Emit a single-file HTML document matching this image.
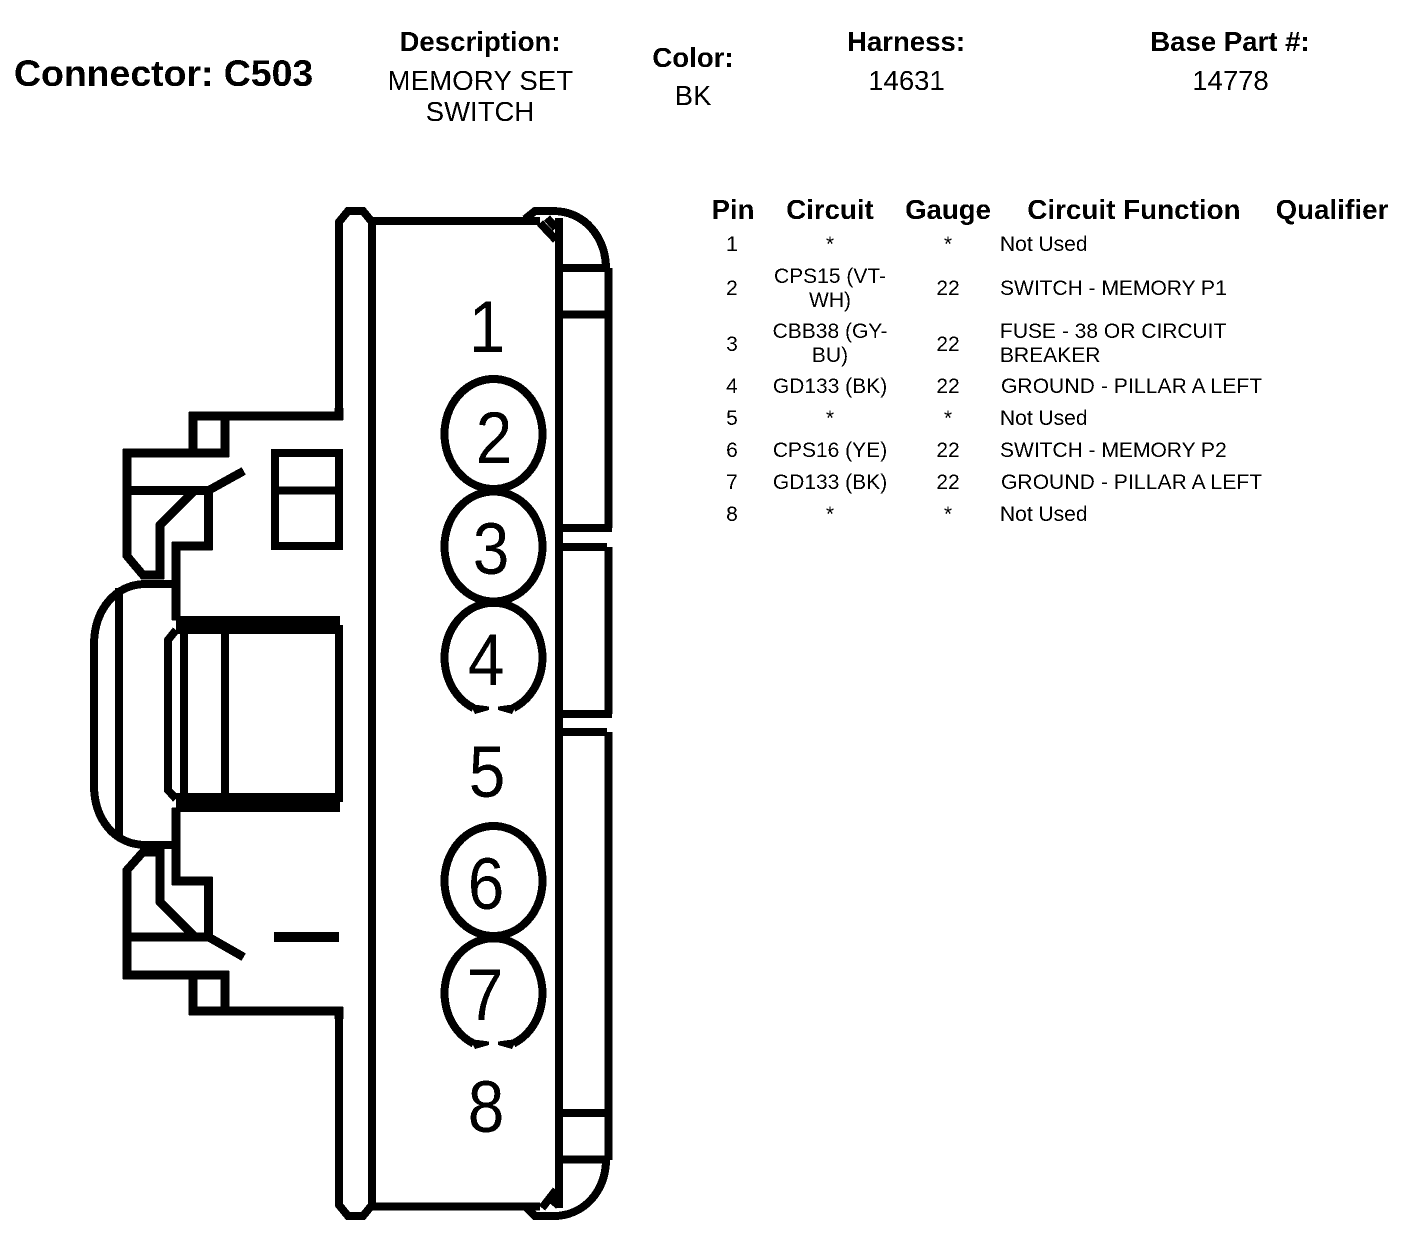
<!DOCTYPE html>
<html><head><meta charset="utf-8"><style>
html,body{margin:0;padding:0;background:#fff}
svg{display:block}
text{font-family:"Liberation Sans",Arial,sans-serif;fill:#000}
.b{font-weight:bold;font-size:27.6px;text-anchor:middle}
.r{font-size:27.5px;text-anchor:middle}
.c{font-size:21px;text-anchor:middle}
.l{font-size:21px}
.d{font-size:73px;text-anchor:middle}
.s{fill:none;stroke:#000;stroke-width:8.5;stroke-linejoin:miter;stroke-linecap:square}
.t{fill:none;stroke:#000;stroke-width:8}
</style></head><body>
<svg width="1408" height="1246" viewBox="0 0 1408 1246" xmlns="http://www.w3.org/2000/svg">
<defs><filter id="a" filterUnits="userSpaceOnUse" x="0" y="0" width="1408" height="1246" color-interpolation-filters="sRGB"><feComponentTransfer><feFuncA type="discrete" tableValues="0 1"/></feComponentTransfer></filter></defs>
<rect width="1408" height="1246" fill="#fff"/>
<g filter="url(#a)">
<text x="14" y="86" style="font-weight:bold;font-size:37.4px">Connector: C503</text>
<text class="b" x="480" y="51">Description:</text>
<text class="r" x="480.5" y="90" style="letter-spacing:.2px">MEMORY SET</text>
<text class="r" x="480" y="121">SWITCH</text>
<text class="b" x="693" y="67">Color:</text>
<text class="r" x="693" y="105">BK</text>
<text class="b" x="906" y="51">Harness:</text>
<text class="r" x="906.5" y="90">14631</text>
<text class="b" x="1230" y="51">Base Part #:</text>
<text class="r" x="1230.5" y="90">14778</text>

<text class="b" x="733" y="219">Pin</text>
<text class="b" x="830" y="219">Circuit</text>
<text class="b" x="948" y="219">Gauge</text>
<text class="b" x="1134" y="219" style="letter-spacing:.1px">Circuit Function</text>
<text class="b" x="1332" y="219" style="letter-spacing:.1px">Qualifier</text>

<text class="c" x="732" y="251">1</text><text class="c" x="830" y="251">*</text><text class="c" x="948" y="251">*</text><text class="l" x="1000" y="251">Not Used</text>
<text class="c" x="732" y="295">2</text><text class="c" x="830" y="283">CPS15 (VT-</text><text class="c" x="830" y="307">WH)</text><text class="c" x="948" y="295">22</text><text class="l" x="1000" y="295">SWITCH - MEMORY P1</text>
<text class="c" x="732" y="351">3</text><text class="c" x="830" y="338">CBB38 (GY-</text><text class="c" x="830" y="362">BU)</text><text class="c" x="948" y="351">22</text><text class="l" x="1000" y="338">FUSE - 38 OR CIRCUIT</text><text class="l" x="1000" y="362">BREAKER</text>
<text class="c" x="732" y="393">4</text><text class="c" x="830" y="393">GD133 (BK)</text><text class="c" x="948" y="393">22</text><text class="l" x="1001" y="393" style="letter-spacing:.1px">GROUND - PILLAR A LEFT</text>
<text class="c" x="732" y="425">5</text><text class="c" x="830" y="425">*</text><text class="c" x="948" y="425">*</text><text class="l" x="1000" y="425">Not Used</text>
<text class="c" x="732" y="457">6</text><text class="c" x="830" y="457">CPS16 (YE)</text><text class="c" x="948" y="457">22</text><text class="l" x="1000" y="457">SWITCH - MEMORY P2</text>
<text class="c" x="732" y="489">7</text><text class="c" x="830" y="489">GD133 (BK)</text><text class="c" x="948" y="489">22</text><text class="l" x="1001" y="489" style="letter-spacing:.1px">GROUND - PILLAR A LEFT</text>
<text class="c" x="732" y="521">8</text><text class="c" x="830" y="521">*</text><text class="c" x="948" y="521">*</text><text class="l" x="1000" y="521">Not Used</text>

<!-- body -->
<path class="s" d="M339 412V416H193V453H127V556L143 575H160V525L192 493M127 490.5H208.5M208.5 490.5L240 473M193 416V453H225V416M208.5 490.5V546H176V616"/>
<path class="s" d="M339 1015V1011H193V975H127V870L143 852H160V902L192 934M127 937H208.5M208.5 937L240 955M193 1011V975H225V1011M208.5 937V881H176V812"/>
<path class="t" stroke-width="8" d="M176 584H146C115 584 94 610 94 645V785C94 820 115 845 146 845H176"/>
<path class="t" d="M119 588V838M176 630L168 640V790L176 799M184 625V802M225 625V802M339 625V802"/>
<rect x="176" y="616" width="164" height="18"/>
<rect x="176" y="793" width="164" height="19"/>
<!-- window / dash -->
<rect x="275" y="453" width="64" height="93" class="t"/>
<path class="t" d="M275 490.5H339"/>
<rect x="274" y="932" width="65" height="10"/>
<!-- main frame -->
<path class="t" d="M339 412V222L348 211H363L372 222V1205L363 1216H348L339 1205V1011"/>
<path class="t" stroke-width="9" d="M372 221H540M372 1206.5H540"/>
<path class="t" d="M525 219L535 211H553C585 211 606 238 606 268M540 223L556 240M547 218L556 228M525 1206L535 1216H553C585 1216 606 1190 606 1160M542 1208L556 1190M553 1206L560 1198"/>
<path class="t" stroke-width="8.5" d="M559 218V1208M608.5 268V528M608.5 547V714M608.5 732V1160"/>
<path class="t" stroke-width="8.5" d="M559 268H608M559 314.5H608M559 528H612M559 547H607M559 714H612M559 732H607M559 1113H608M559 1159.5H610"/>
<!-- pins -->
<ellipse class="t" cx="493.5" cy="434" rx="49" ry="55"/>
<ellipse class="t" cx="493.5" cy="546.5" rx="49" ry="55"/>
<ellipse class="t" cx="493.5" cy="881" rx="49" ry="55"/>
<path class="t" d="M473.5 708A49 55 0 1 1 513.5 708"/>
<path d="M470 704L475 714L489 710V706.5ZM517 704L512 714L498 710V706.5Z"/>
<path class="t" d="M473.5 1043.5A49 55 0 1 1 513.5 1043.5"/>
<path d="M470 1039L475 1049L489 1045V1041.5ZM517 1039L512 1049L498 1045V1041.5Z"/>
<g class="digits">
<text class="d" transform="translate(487,352) scale(.9,1)">1</text>
<text class="d" transform="translate(494,463) scale(.9,1)">2</text>
<text class="d" transform="translate(491,574) scale(.9,1)">3</text>
<text class="d" transform="translate(486,685) scale(.9,1)">4</text>
<text class="d" transform="translate(487,797) scale(.9,1)">5</text>
<text class="d" transform="translate(486,909) scale(.9,1)">6</text>
<text class="d" transform="translate(485,1020) scale(.9,1)">7</text>
<text class="d" transform="translate(486,1132) scale(.9,1)">8</text>
</g>
</g>
</svg>
</body></html>
